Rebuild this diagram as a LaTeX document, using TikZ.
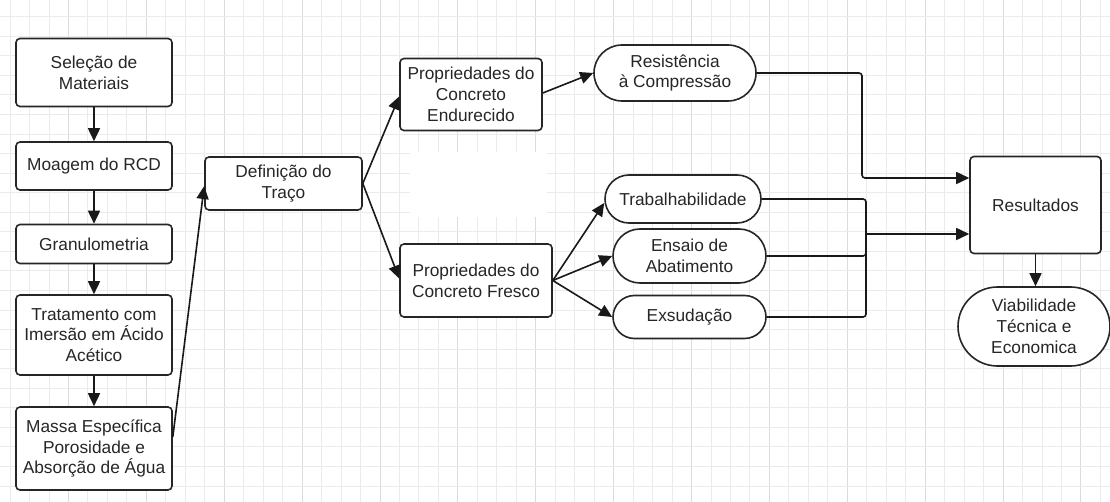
\documentclass[tikz,border=0pt]{standalone}
\usepackage{fontspec}
\setmainfont{Liberation Sans}
\usetikzlibrary{arrows.meta,shapes.misc}

\begin{document}
\begin{tikzpicture}[x=1pt,y=-1pt,
	box/.style={draw=black!85,line width=1.6pt,rounded corners=4pt,fill=white,align=center,inner sep=0pt,text=black!85,font=\fontsize{17.3}{20.7}\selectfont},
	pill/.style={draw=black!85,line width=1.6pt,rounded rectangle,fill=white,align=center,inner sep=0pt,text=black!85,font=\fontsize{17.3}{20.7}\selectfont},
	conn/.style={line width=1.6pt,draw=black!90,-{Triangle[length=13pt,width=12pt]}},
	wire/.style={line width=1.6pt,draw=black!90,rounded corners=3pt},
	gridline/.style={draw=black!8,line width=0.8pt},
	gridmajor/.style={draw=black!14,line width=0.8pt}]
	\useasboundingbox (0,0) rectangle (1110,502);
	\fill[white] (0,0) rectangle (1110,502);
	% background grid
	\foreach \i in {0,...,56} \draw[gridline] ({10+19.47*\i},0) -- ({10+19.47*\i},502);
	\foreach \i in {3,7,...,55} \draw[gridmajor] ({10+19.47*\i},0) -- ({10+19.47*\i},502);
	\foreach \j in {0,...,24} \draw[gridline] (0,{16.7+19.55*\j}) -- (1110,{16.7+19.55*\j});
	\fill[white] (410,152) rectangle (547,217);

	% first column
	\node[box,minimum width=156pt,minimum height=68pt] (sel) at (94,72.5) {Seleção de\\Materiais};
	\node[box,minimum width=156pt,minimum height=48pt] (moa) at (94,166) {Moagem do RCD};
	\node[box,minimum width=156pt,minimum height=39pt] (gra) at (94,244) {Granulometria};
	\node[box,minimum width=156pt,minimum height=80pt] (tra) at (94,335) {Tratamento com\\Imersão em Ácido\\Acético};
	\node[box,minimum width=156pt,minimum height=83pt] (mas) at (94,448.5) {Massa Específica\\Porosidade e\\Absorção de Água};
	\draw[conn] (sel) -- (moa);
	\draw[conn] (moa) -- (gra);
	\draw[conn] (gra) -- (tra);
	\draw[conn] (tra) -- (mas);

	% mix and properties
	\node[box,minimum width=157pt,minimum height=53pt] (def) at (283.5,183.5) {Definição do\\Traço};
	\node[box,minimum width=142pt,minimum height=72pt] (end) at (471,94.5) {Propriedades do\\Concreto\\Endurecido};
	\node[box,minimum width=152pt,minimum height=73pt] (fre) at (476,280.5) {Propriedades do\\Concreto Fresco};
	\draw[conn] ([yshift=11.5pt]mas.east) -- ([yshift=-2.5pt]def.west);
	\draw[conn] (def.east) -- ([yshift=-2pt]end.west);
	\draw[conn] (def.east) -- ([yshift=2pt]fre.west);

	% tests
	\node[pill,minimum width=162pt,minimum height=56pt] (res) at (675,73) {Resistência\\à Compressão};
	\node[pill,minimum width=156pt,minimum height=48pt] (trab) at (683,199) {Trabalhabilidade};
	\node[pill,minimum width=153pt,minimum height=54pt] (ens) at (689.5,256) {Ensaio de\\Abatimento};
	\node[pill,minimum width=153pt,minimum height=43pt] (exs) at (689.5,317) {Exsudação};
	\draw[conn] ([yshift=1.5pt]end.east) -- (res.west);
	\draw[conn] (fre.east) -- ([yshift=-4pt]trab.west);
	\draw[conn] (fre.east) -- (ens.west);
	\draw[conn] (fre.east) -- (exs.west);

	% results
	\node[box,minimum width=131pt,minimum height=97pt] (rsl) at (1035.5,205) {Resultados};
	\node[pill,minimum width=152pt,minimum height=79pt] (via) at (1034,326.5) {Viabilidade\\Técnica e\\Economica};
	\coordinate (jn) at (866,234);
	\draw[conn,rounded corners=3pt] (res.east) -- (862,73) -- (862,178) -- ([yshift=27pt]rsl.west);
	\draw[wire] (trab.east) -| (jn);
	\draw[wire] (ens.east) -| (jn);
	\draw[wire] (exs.east) -| (jn);
	\draw[conn] (jn) -- (jn -| rsl.west);
	\draw[conn] (rsl.south) -- (rsl.south |- via.north);
\end{tikzpicture}
\end{document}
